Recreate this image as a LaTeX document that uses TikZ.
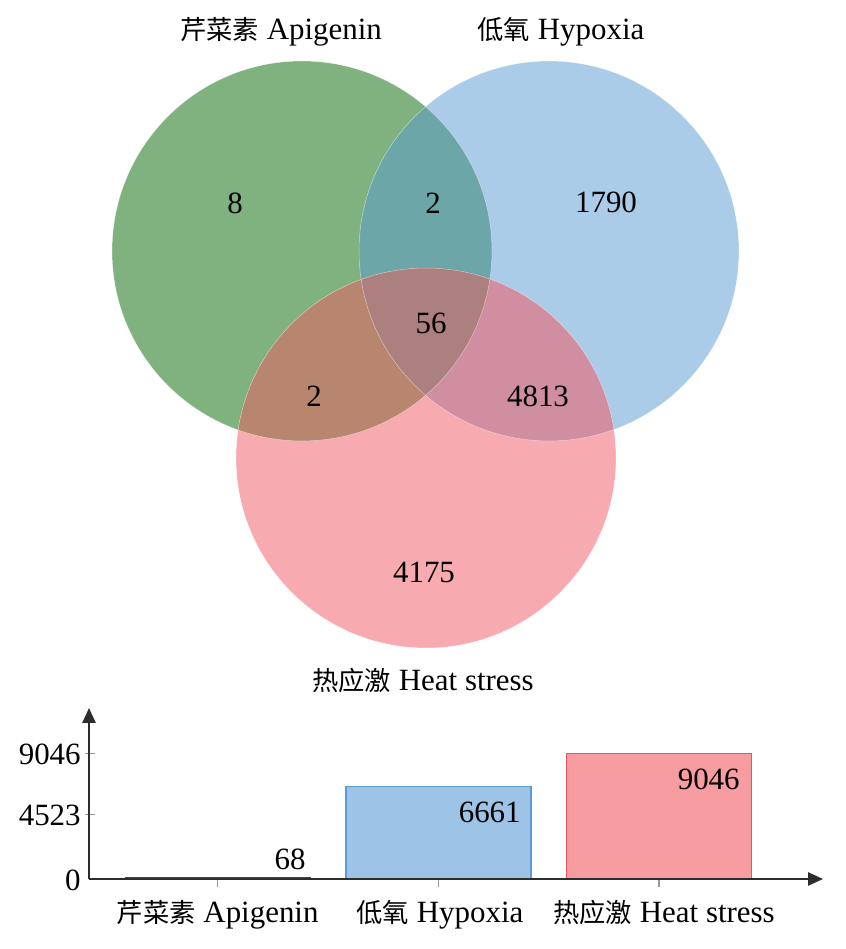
\documentclass[tikz,border=0pt]{standalone}
\usepackage{fontspec}
\setmainfont{Liberation Serif}
\newfontfamily\cjk{Noto Sans CJK SC}[Scale=0.85]
\usetikzlibrary{arrows.meta}
\definecolor{cA}{RGB}{127,178,127}
\definecolor{cB}{RGB}{171,204,233}
\definecolor{cC}{RGB}{247,170,175}
\definecolor{cAB}{RGB}{108,166,168}
\definecolor{cAC}{RGB}{184,134,111}
\definecolor{cBC}{RGB}{208,143,161}
\definecolor{cABC}{RGB}{173,128,128}
\definecolor{barB}{RGB}{157,195,230}
\definecolor{barBd}{RGB}{91,155,213}
\definecolor{barC}{RGB}{247,156,161}
\definecolor{barCd}{RGB}{238,82,92}
\definecolor{barA}{RGB}{56,87,35}
\definecolor{axis}{RGB}{45,45,45}
\begin{document}
\begin{tikzpicture}[x=0.02cm,y=-0.02cm,
  font=\fontsize{17.6}{20}\selectfont,
  lbl/.style={inner sep=0pt,anchor=base},
  vlbl/.style={inner sep=0pt,anchor=base east},
  edge/.style={draw=white,draw opacity=0.45,line width=0.3pt},
  axisline/.style={draw=axis,line width=1.1pt,-{Triangle[length=8.5pt,width=7.5pt]}},
  tickline/.style={draw=gray!80,line width=0.6pt}]
\useasboundingbox (0,0) rectangle (845,949);
\def\R{3.8cm}
\coordinate (A) at (302,251);
\coordinate (B) at (549,251);
\coordinate (C) at (426,458);
% base circles
\fill[cA] (A) circle[radius=\R];
\fill[cB] (B) circle[radius=\R];
\fill[cC] (C) circle[radius=\R];
% pairwise overlaps
\begin{scope}
  \clip (A) circle[radius=\R];
  \fill[cAB] (B) circle[radius=\R];
  \fill[cAC] (C) circle[radius=\R];
\end{scope}
\begin{scope}
  \clip (B) circle[radius=\R];
  \fill[cBC] (C) circle[radius=\R];
\end{scope}
\begin{scope}
  \clip (A) circle[radius=\R];
  \clip (B) circle[radius=\R];
  \fill[cABC] (C) circle[radius=\R];
\end{scope}
\path[edge] (A) circle[radius=\R];
\path[edge] (B) circle[radius=\R];
\path[edge] (C) circle[radius=\R];
% set titles
\node[lbl] (tA) at (281,40) {{\cjk 芹菜素} Apigenin};
\node[lbl] (tB) at (561,40) {{\cjk 低氧} Hypoxia};
\node[lbl] (tC) at (423,690) {{\cjk 热应激} Heat stress};
% region counts
\node[lbl] (nA) at (235,214) {8};
\node[lbl] (nAB) at (433,214) {2};
\node[lbl] (nB) at (606,213) {1790};
\node[lbl] (nABC) at (431,334) {56};
\node[lbl] (nAC) at (314,406) {2};
\node[lbl] (nBC) at (538,406) {4813};
\node[lbl] (nC) at (424,582) {4175};
% bar chart
\coordinate (O) at (89,879);
\coordinate (Ytop) at (89,708);
\coordinate (Xend) at (823,879);
\draw[fill=barB,draw=barBd,line width=0.7pt] (346,879) rectangle (531,786.5);
\draw[fill=barC,draw=barCd,line width=0.7pt] (566.5,879) rectangle (751.5,753.3);
\draw[barA,line width=1.2pt] (124.5,878.2) -- (310.5,878.2);
\draw[tickline] (85,753.3) -- (95,753.3);
\draw[tickline] (85,814.1) -- (95,814.1);
\draw[tickline] (217.7,879) -- (217.7,887);
\draw[tickline] (438.5,879) -- (438.5,887);
\draw[tickline] (659,879) -- (659,887);
\draw[axisline] (O) -- (Ytop);
\draw[axisline] (O) -- (Xend);
\node[vlbl] (y1) at (81,764) {9046};
\node[vlbl] (y2) at (81,825) {4523};
\node[vlbl] (y0) at (81,890) {0};
\node[vlbl] (vA) at (306,869) {68};
\node[vlbl] (vB) at (521,822) {6661};
\node[vlbl] (vC) at (740,789) {9046};
\node[lbl] (xA) at (217.7,922) {{\cjk 芹菜素} Apigenin};
\node[lbl] (xB) at (440,922) {{\cjk 低氧} Hypoxia};
\node[lbl] (xC) at (664,922) {{\cjk 热应激} Heat stress};
\end{tikzpicture}
\end{document}
